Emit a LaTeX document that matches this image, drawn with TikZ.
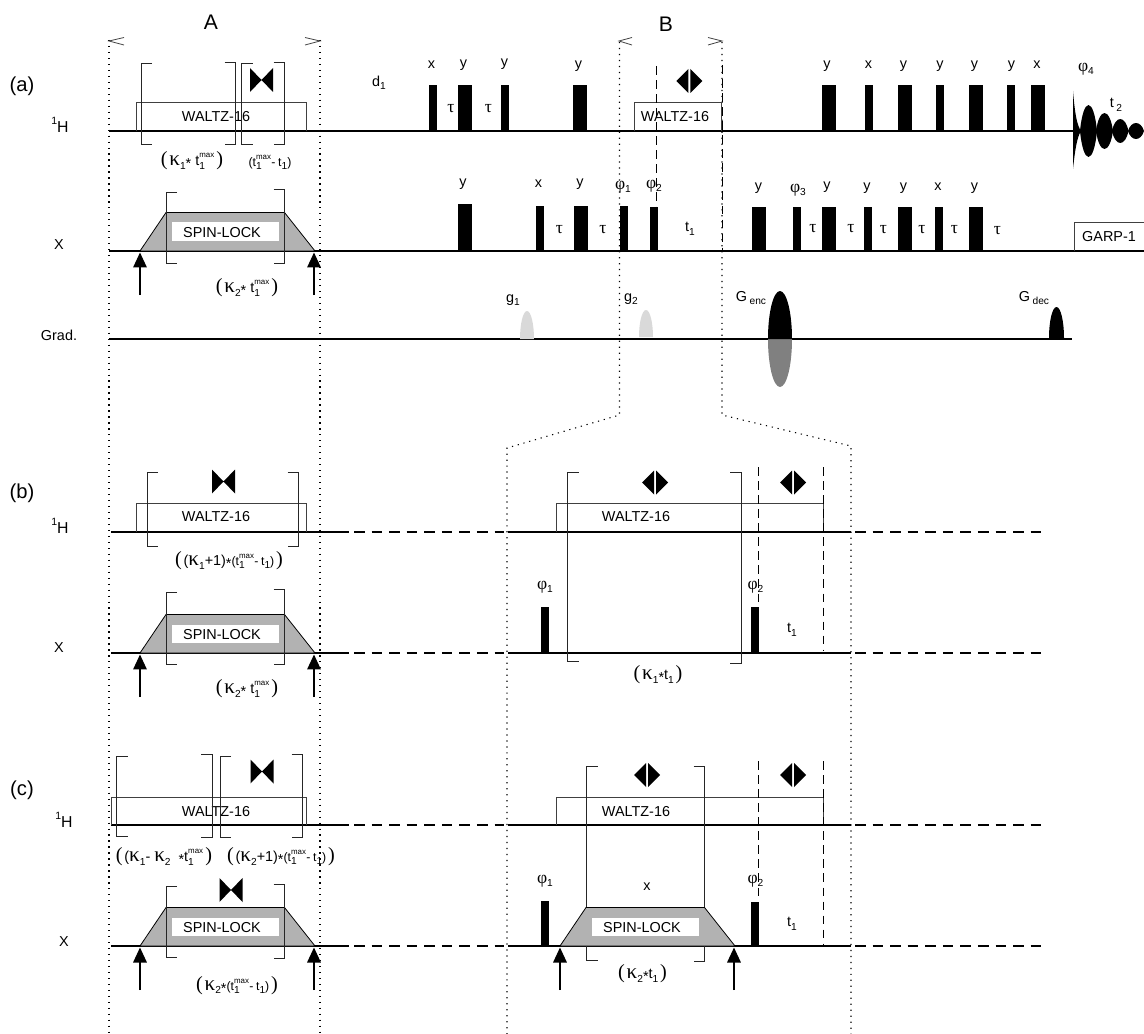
\documentclass[tikz,border=0pt]{standalone}
\usepackage{fontspec}
\setmainfont{Liberation Sans}
\newfontfamily\symfont{Liberation Serif}
\usetikzlibrary{arrows.meta}

\begin{document}
\begin{tikzpicture}[x=0.02cm, y=-0.02cm,
  lbl/.style={inner sep=0pt, font=\fontsize{8.2}{9}\selectfont},
  big/.style={inner sep=0pt, font=\fontsize{11.5}{13}\selectfont},
  nuc/.style={inner sep=0pt, font=\fontsize{9}{10}\selectfont},
  base/.style={line width=0.75pt},
  dashbase/.style={line width=0.75pt, dash pattern=on 6pt off 4pt},
  guide/.style={line width=0.6pt, dash pattern=on 0.7pt off 2.7pt},
  tdash/.style={line width=0.45pt, dash pattern=on 5pt off 3pt},
  brk/.style={line width=0.45pt, black!85},
  boxline/.style={line width=0.45pt, black!75},
  lock/.style={line width=0.45pt, draw=black, fill=black!30},
  pulsearrow/.style={line width=0.95pt, -{Triangle[length=0.3cm, width=0.27cm]}}]
\useasboundingbox (0,0) rectangle (1144,1034);

\def\low#1{\raisebox{-0.45ex}{\fontsize{5.8}{6}\selectfont #1}}
\def\hgh#1{\raisebox{1.1ex}{\fontsize{4.5}{4}\selectfont #1}}
\def\tau{{\symfont\fontsize{10}{10}\selectfont τ}}
\def\phs#1{{\symfont\fontsize{10}{10}\selectfont φ}\low{#1}}
\def\kap#1{{\symfont\fontsize{12}{10}\selectfont κ}\low{#1}}
\def\tmx{t\rlap{\hgh{max}}\low{1}\kern5.5pt}
\def\tdf{{\fontsize{7}{7}\selectfont (t\rlap{\hgh{max}}\low{1}\kern5.5pt-\kern1.5pt t\low{1})}}
\def\str{\raisebox{-0.4ex}{*}}
\def\lp{{\symfont\fontsize{11.5}{11}\selectfont (\kern1pt}}
\def\rp{{\symfont\fontsize{11.5}{11}\selectfont \kern1pt)}}

\def\bkl#1#2#3{\draw[brk] ({#1+11},#2) -- (#1,#2) -- (#1,#3) -- ({#1+11},#3);}
\def\bkr#1#2#3{\draw[brk] ({#1-11},#2) -- (#1,#2) -- (#1,#3) -- ({#1-11},#3);}
\def\bowt#1#2{\fill ({#1-11.5},{#2-12}) -- (#1,#2) -- ({#1+11.5},{#2-12}) -- ({#1+11.5},{#2+12}) -- (#1,#2) -- ({#1-11.5},{#2+12}) -- cycle;}
\def\dmnd#1#2{\fill ({#1-13},#2) -- ({#1-1},{#2-12}) -- ({#1-1},{#2+12}) -- cycle;
  \fill ({#1+13},#2) -- ({#1+1},{#2-12}) -- ({#1+1},{#2+12}) -- cycle;}
\def\lobe#1#2#3{\fill (#1,131) .. controls ({#1+(#2-#1)/5},{131-1.33*#3}) and ({#1+4*(#2-#1)/5},{131-1.33*#3}) .. (#2,131)
  .. controls ({#1+4*(#2-#1)/5},{131+1.33*#3}) and ({#1+(#2-#1)/5},{131+1.33*#3}) .. cycle;}
% name, left x, line y
\def\spin#1#2#3{\draw[lock] (#2,#3) -- ({#2+26},{#3-38.5}) -- ({#2+144.5},{#3-38.5}) -- ({#2+175},#3) -- cycle;
  \fill[white] ({#2+32},{#3-28.5}) rectangle ({#2+139},{#3-10});
  \node[lbl] (#1) at ({#2+82},{#3-18.5}) {SPIN-LOCK};}
% name, x, line y
\def\arrowup#1#2#3{\coordinate (#1a) at (#2,{#3+44}); \coordinate (#1b) at (#2,{#3+1.5});
  \draw[pulsearrow] (#1a) -- (#1b);}

% Guide lines
\draw[guide] (109,40) -- (109,1034);
\draw[guide] (320,40) -- (320,1034);
\draw[guide] (619.5,42) -- (619.5,415) -- (507,448) -- (507,1034);
\draw[guide] (722,42) -- (722,415) -- (851,446) -- (851,1034);
\draw[boxline] (124,37.5) -- (109,41) -- (124,45);
\draw[boxline] (305,37.5) -- (320,41) -- (305,45);
\draw[boxline] (632,37.5) -- (619,41) -- (632,45);
\draw[boxline] (708,37.5) -- (722,41) -- (708,45);
\node[inner sep=0pt, font=\fontsize{12}{13}\selectfont] (partA) at (211,22) {A};
\node[inner sep=0pt, font=\fontsize{12}{13}\selectfont] (partB) at (666,24) {B};

% Sequence (a)
\node[big] (seqa) at (22,86) {(a)};
\node[nuc] (Ha) at (60,125) {\raisebox{1ex}{\fontsize{6}{6}\selectfont 1}H};
\node[lbl] (Xa) at (59,245) {X};
\node[lbl] (Ga) at (59,335) {Grad.};
\draw[base] (109,131) -- (1073,131);
\draw[base] (109,251) -- (1144,251);
\draw[base] (109,339) -- (1072,339);

\draw[boxline] (136.5,131) -- (136.5,102.5) -- (306,102.5) -- (306,131);
\node[lbl] (wa1) at (216,117) {WALTZ-16};
\bkl{141}{63}{144}
\bkr{235.5}{62.5}{144}
\bkl{241.5}{63}{144}
\bkr{284.5}{62.5}{144}
\bowt{261.5}{80}
\node[lbl] (ka1) at (192,161) {\lp\kap{1}\str\ \tmx\rp};
\node[lbl] (ka2) at (270,162) {\tdf};
\spin{sla}{140}{251}
\bkl{166}{192}{263.5}
\bkr{284.5}{189}{263.5}
\arrowup{ara}{140}{251}
\arrowup{arb}{314}{251}
\node[lbl] (ka3) at (247,288) {\lp\kap{2}\str\ \tmx\rp};
\node[lbl] (d1) at (379,83) {d\low{1}};

% 1H pulses
\fill (429,85) rectangle (437,131);
\fill (458,85) rectangle (472,131);
\fill (501,85) rectangle (509,131);
\fill (573,85) rectangle (587,131);
\fill (822,85) rectangle (836,131);
\fill (865,85) rectangle (873,131);
\fill (898,85) rectangle (912,131);
\fill (936,85) rectangle (944,131);
\fill (969,85) rectangle (983,131);
\fill (1007,85) rectangle (1015,131);
\fill (1031,85) rectangle (1045,131);
\node[lbl] (p1) at (431.5,65) {x};
\node[lbl] (p2) at (463.5,65) {y};
\node[lbl] (p3) at (504.5,64) {y};
\node[lbl] (p4) at (578.5,66) {y};
\node[lbl] (p5) at (827,66) {y};
\node[lbl] (p6) at (868.5,65) {x};
\node[lbl] (p7) at (903.5,66) {y};
\node[lbl] (p8) at (940,66) {y};
\node[lbl] (p9) at (974.5,66) {y};
\node[lbl] (p10) at (1011.5,66) {y};
\node[lbl] (p11) at (1037,65) {x};
\node[lbl] (t1) at (451,109) {\tau};
\node[lbl] (t2) at (488.5,109) {\tau};
\draw[boxline] (634.5,131) -- (634.5,102.5) -- (721.5,102.5) -- (721.5,131);
\node[lbl] (wa2) at (675,117) {WALTZ-16};
\draw[tdash] (656.5,66) -- (656.5,208);
\draw[tdash] (722,65) -- (722,250);
\dmnd{689.3}{81}
\node[lbl] (phi4) at (1086,69) {\phs{4}};
\node[lbl] (t2a) at (1116,105) {t\,\low{2}};

% FID
\fill (1073,91) .. controls (1075,115) and (1077,125) .. (1081,131) .. controls (1077,137) and (1075,150) .. (1073,169) -- cycle;
\lobe{1080}{1097}{26}
\lobe{1096}{1113}{18}
\lobe{1112}{1128.5}{12}
\lobe{1128}{1144}{8}

% X pulses
\fill (458,204) rectangle (472,250);
\fill (536,206) rectangle (544,251);
\fill (574,206) rectangle (588,251);
\fill (620,206) rectangle (628,251);
\fill (650,207) rectangle (658,251);
\fill (752,207) rectangle (766,251);
\fill (793,207) rectangle (801,251);
\fill (822,207) rectangle (836,251);
\fill (864,207) rectangle (872,251);
\fill (898,207) rectangle (912,251);
\fill (935,207) rectangle (943,251);
\fill (969,207) rectangle (983,251);
\node[lbl] (q1) at (463,184) {y};
\node[lbl] (q2) at (538.5,184) {x};
\node[lbl] (q3) at (580,184) {y};
\node[lbl] (phi1) at (623,187) {\phs{1}};
\node[lbl] (phi2) at (654,186) {\phs{2}};
\node[lbl] (q4) at (758.5,188) {y};
\node[lbl] (phi3) at (798,190) {\phs{3}};
\node[lbl] (q5) at (827,187) {y};
\node[lbl] (q6) at (867,188) {y};
\node[lbl] (q7) at (903.5,188) {y};
\node[lbl] (q8) at (938,187) {x};
\node[lbl] (q9) at (974.5,188) {y};
\node[lbl] (t3) at (559.5,230) {\tau};
\node[lbl] (t4) at (603,230) {\tau};
\node[lbl] (t5) at (813,229) {\tau};
\node[lbl] (t6) at (851,229) {\tau};
\node[lbl] (t7) at (883.5,230) {\tau};
\node[lbl] (t8) at (922,230) {\tau};
\node[lbl] (t9) at (954.5,230) {\tau};
\node[lbl] (t10) at (997.5,231) {\tau};
\node[lbl] (t1a) at (690,229) {t\low{1}};
\draw[boxline] (1074,251) -- (1074,222.5) -- (1144,222.5);
\node[lbl] (garp) at (1109,237) {GARP-1};

% Gradients
\fill[black!15] (520,339) arc [start angle=180, end angle=360, x radius=7, y radius=28];
\fill[black!15] (639,337) arc [start angle=180, end angle=360, x radius=7, y radius=27];
\fill[black!50] (768,339) arc [start angle=180, end angle=0, x radius=12, y radius=48];
\fill (768,339) arc [start angle=180, end angle=360, x radius=12, y radius=48];
\fill (1049,338) arc [start angle=180, end angle=360, x radius=7.5, y radius=31];
\node[lbl] (g1) at (513,300) {g\low{1}};
\node[lbl] (g2) at (631,299) {g\low{2}};
\node[lbl] (Genc) at (751,298) {G\,\low{enc}};
\node[lbl] (Gdec) at (1034,298) {G\,\low{dec}};

% Sequence (b)
\node[big] (seqb) at (22,493) {(b)};
\node[nuc] (Hb) at (60,526) {\raisebox{1ex}{\fontsize{6}{6}\selectfont 1}H};
\node[lbl] (Xb) at (59,648) {X};
\draw[base] (111,532) -- (349,532);
\draw[dashbase] (354,532) -- (504,532);
\draw[base] (508,532) -- (851,532);
\draw[dashbase] (855,532) -- (1048,532);
\draw[base] (111,653) -- (349,653);
\draw[dashbase] (354,653) -- (504,653);
\draw[base] (508,653) -- (851,653);
\draw[dashbase] (855,653) -- (1048,653);

\draw[boxline] (136.5,532) -- (136.5,503) -- (306,503) -- (306,532);
\node[lbl] (wb1) at (216,517) {WALTZ-16};
\bkl{147}{472}{546.5}
\bkr{298.5}{472}{546.5}
\bowt{223.5}{481.5}
\node[lbl] (kb1) at (229,561) {\lp(\kap{1}+1)\str\tdf\rp};
\spin{slb}{140}{653}
\bkl{166}{592}{664}
\bkr{284.5}{589.5}{664}
\arrowup{arc}{140}{653}
\arrowup{ard}{314}{653}
\node[lbl] (kb2) at (247,689) {\lp\kap{2}\str\ \tmx\rp};

\draw[boxline] (556.5,532) -- (556.5,503) -- (823.5,503) -- (823.5,532);
\node[lbl] (wb2) at (636,517) {WALTZ-16};
\bkl{567.5}{472}{661}
\bkr{741}{472}{663}
\dmnd{655}{482.5}
\dmnd{793}{482.5}
\draw[tdash] (758,467) -- (758,607);
\draw[tdash] (823.5,467) -- (823.5,650);
\fill (541,607) rectangle (549,653);
\fill (751,607) rectangle (759,653);
\node[lbl] (phib1) at (545,587) {\phs{1}};
\node[lbl] (phib2) at (755.5,587) {\phs{2}};
\node[lbl] (t1b) at (792,630) {t\low{1}};
\node[lbl] (kb3) at (658,675) {\lp\kap{1}\str t\low{1}\rp};

% Sequence (c)
\node[big] (seqc) at (22,790) {(c)};
\node[nuc] (Hc) at (64,820) {\raisebox{1ex}{\fontsize{6}{6}\selectfont 1}H};
\node[lbl] (Xc) at (64,942) {X};
\draw[base] (111,825) -- (349,825);
\draw[dashbase] (354,825) -- (504,825);
\draw[base] (508,825) -- (851,825);
\draw[dashbase] (855,825) -- (1048,825);
\draw[base] (111,946) -- (349,946);
\draw[dashbase] (354,946) -- (504,946);
\draw[base] (508,946) -- (851,946);
\draw[dashbase] (855,946) -- (1048,946);

\draw[boxline] (111.5,825) -- (111.5,797) -- (306,797) -- (306,825);
\node[lbl] (wc1) at (216,812) {WALTZ-16};
\bkl{116.5}{756}{836.5}
\bkr{212}{754.5}{837}
\bkl{220}{756}{837}
\bkr{302.5}{754.5}{837}
\bowt{262}{771.5}
\node[lbl] (kc1) at (164,857) {\lp(\kap{1}- \kap{2}\ \ \str\tmx\rp};
\node[lbl] (kc2) at (281,857) {\lp(\kap{2}+1)\str\tdf\rp};
\bowt{231}{890}
\spin{slc}{140}{946}
\bkl{166}{886}{957}
\bkr{284.5}{884}{958}
\arrowup{are}{140}{946}
\arrowup{arf}{314}{946}
\node[lbl] (kc3) at (237,985.5) {\lp\kap{2}\str\tdf\rp};

\draw[boxline] (556.5,825) -- (556.5,797) -- (823.5,797) -- (823.5,825);
\node[lbl] (wc2) at (636,812) {WALTZ-16};
\bkl{586.5}{766}{960}
\bkr{704.5}{766}{961}
\dmnd{647}{775}
\dmnd{793}{775}
\draw[tdash] (758,761) -- (758,901);
\draw[tdash] (823.5,761) -- (823.5,944);
\node[lbl] (xc) at (647,887) {x};
\spin{sld}{560}{946}
\arrowup{arg}{560}{946}
\arrowup{arh}{734}{946}
\fill (541,901) rectangle (549,946);
\fill (751,902) rectangle (759,946);
\node[lbl] (phic1) at (545,881) {\phs{1}};
\node[lbl] (phic2) at (755.5,881) {\phs{2}};
\node[lbl] (t1c) at (792,924) {t\low{1}};
\node[lbl] (kc4) at (642.5,974) {\lp\kap{2}\str t\low{1}\rp};

\end{tikzpicture}
\end{document}
